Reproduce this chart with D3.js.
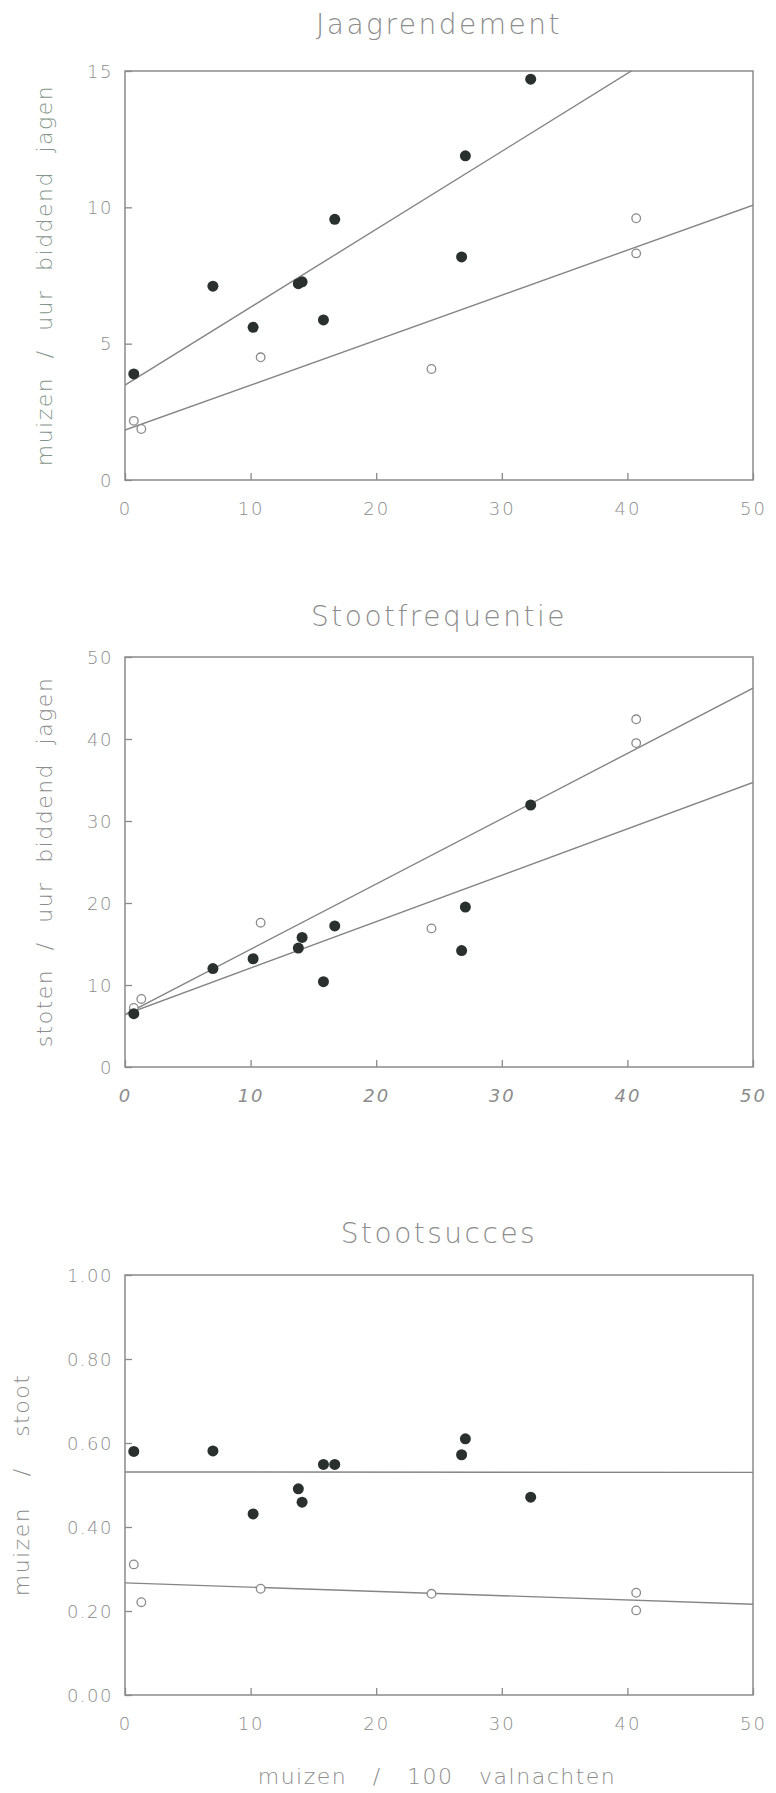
<!DOCTYPE html>
<html>
<head>
<meta charset="utf-8">
<script src="https://cdn.jsdelivr.net/npm/d3@7"></script>
<style>
  body { margin: 0; background: #fff; }
  svg { display: block; font-family: 'DejaVu Sans', sans-serif; font-weight: 200; }
</style>
</head>
<body>
<div id="chart"></div>
<script>
// x: muizen / 100 valnachten, same for all three panels
const xFilled = [0.7, 7.0, 10.2, 13.8, 14.1, 15.8, 16.7, 26.8, 27.1, 32.3]
const xOpen = [0.7, 1.3, 10.8, 24.4, 40.7, 40.7]
const xTicks = [0, 10, 20, 30, 40, 50]

// Jaagrendement (muizen / uur biddend jagen)
const jaagFilled = [3.89, 7.11, 5.6, 7.2, 7.27, 5.87, 9.56, 8.18, 11.89, 14.7]
const jaagOpen = [2.17, 1.87, 4.5, 4.07, 9.6, 8.31]
const jaagLines = [[3.48, 17.77], [1.83, 10.08]] // y at x=0 and x=50
const jaagTicks = [0, 5, 10, 15]

// Stootfrequentie (stoten / uur biddend jagen)
const stootFilled = [6.5, 12.0, 13.2, 14.5, 15.8, 10.4, 17.2, 14.2, 19.5, 31.95]
const stootOpen = [7.2, 8.3, 17.6, 16.9, 42.4, 39.5]
const stootLines = [[6.4, 46.2], [6.4, 34.7]]
const stootTicks = [0, 10, 20, 30, 40, 50]

// Stootsucces (muizen / stoot)
const succesFilled = [0.58, 0.581, 0.431, 0.491, 0.459, 0.549, 0.549, 0.572, 0.61, 0.471]
const succesOpen = [0.311, 0.221, 0.253, 0.241, 0.2435, 0.2014]
const succesLines = [[0.531, 0.530], [0.267, 0.216]]
const succesTicks = [0, 0.2, 0.4, 0.6, 0.8, 1.0]

const panels = [
  { title: 'Jaagrendement', ylabel: 'muizen / uur biddend jagen', yMax: 15, ticks: jaagTicks, fmt: d3.format('d'),
    filled: jaagFilled, open: jaagOpen, lines: jaagLines, top: 71, bottom: 480, titleY: 24, ylabelX: 44, ws: 10, italic: false, ylabelColor: '#85968c' },
  { title: 'Stootfrequentie', ylabel: 'stoten / uur biddend jagen', yMax: 50, ticks: stootTicks, fmt: d3.format('d'),
    filled: stootFilled, open: stootOpen, lines: stootLines, top: 657, bottom: 1067, titleY: 616, ylabelX: 44, ws: 10, italic: true, ylabelColor: '#8c8c8c' },
  { title: 'Stootsucces', ylabel: 'muizen / stoot', yMax: 1, ticks: succesTicks, fmt: d3.format('.2f'),
    filled: succesFilled, open: succesOpen, lines: succesLines, top: 1275, bottom: 1695, titleY: 1233, ylabelX: 21, ws: 22, italic: false, ylabelColor: '#8c8c8c' }
]

const width = 776
const height = 1793
const left = 125
const right = 753
const frameColor = '#8a8a8a'
const textColor = '#8c8c8c'

const svg = d3.select('#chart')
  .append('svg')
  .attr('width', width)
  .attr('height', height)

panels.forEach((p, i) => {
  const x = d3.scaleLinear().domain([0, 50]).range([left, right])
  const y = d3.scaleLinear().domain([0, p.yMax]).range([p.bottom, p.top])
  const g = svg.append('g')

  g.append('clipPath')
    .attr('id', 'clip' + i)
    .append('rect')
    .attr('x', left)
    .attr('y', p.top)
    .attr('width', right - left)
    .attr('height', p.bottom - p.top)

  // title
  g.append('text')
    .attr('x', (left + right) / 2)
    .attr('y', p.titleY)
    .attr('dy', '0.35em')
    .attr('text-anchor', 'middle')
    .attr('fill', textColor)
    .style('font-size', '28px')
    .style('letter-spacing', '2.5px')
    .text(p.title)

  // x axis, ticks point inward
  const xAxis = g.append('g')
    .attr('transform', `translate(0,${p.bottom})`)
    .call(d3.axisBottom(x).tickValues(xTicks).tickSizeInner(-7).tickSizeOuter(0))
  xAxis.attr('font-family', null).attr('font-size', null)
  xAxis.select('.domain').remove()
  xAxis.selectAll('line').attr('stroke', frameColor).attr('stroke-width', 1.3)
  xAxis.selectAll('text')
    .attr('y', 29)
    .attr('dy', '0.35em')
    .attr('fill', textColor)
    .style('font-size', '18px')
    .style('letter-spacing', '2px')
    .style('font-style', p.italic ? 'italic' : 'normal')

  // y axis
  const yAxis = g.append('g')
    .attr('transform', `translate(${left},0)`)
    .call(d3.axisLeft(y).tickValues(p.ticks).tickFormat(p.fmt).tickSizeInner(-7).tickSizeOuter(0))
  yAxis.attr('font-family', null).attr('font-size', null)
  yAxis.select('.domain').remove()
  yAxis.selectAll('line').attr('stroke', frameColor).attr('stroke-width', 1.3)
  yAxis.selectAll('text')
    .attr('x', -12)
    .attr('dy', '0.35em')
    .attr('fill', textColor)
    .style('font-size', '18px')
    .style('letter-spacing', '1.5px')

  // frame
  g.append('rect')
    .attr('x', left)
    .attr('y', p.top)
    .attr('width', right - left)
    .attr('height', p.bottom - p.top)
    .attr('fill', 'none')
    .attr('stroke', frameColor)
    .attr('stroke-width', 1.5)

  // y label
  g.append('text')
    .attr('transform', `translate(${p.ylabelX},${(p.top + p.bottom) / 2}) rotate(-90)`)
    .attr('text-anchor', 'middle')
    .attr('dy', '0.35em')
    .attr('fill', p.ylabelColor)
    .style('font-size', '22px')
    .style('letter-spacing', '1.5px')
    .style('word-spacing', p.ws + 'px')
    .text(p.ylabel)

  // fitted lines
  g.append('g')
    .attr('clip-path', `url(#clip${i})`)
    .selectAll('line')
    .data(p.lines)
    .enter()
    .append('line')
    .attr('x1', x(0))
    .attr('y1', d => y(d[0]))
    .attr('x2', x(50))
    .attr('y2', d => y(d[1]))
    .attr('stroke', '#858585')
    .attr('stroke-width', 1.4)

  // open circles
  g.append('g')
    .selectAll('circle')
    .data(p.open.map((v, j) => [xOpen[j], v]))
    .enter()
    .append('circle')
    .attr('cx', d => x(d[0]))
    .attr('cy', d => y(d[1]))
    .attr('r', 4.3)
    .attr('fill', '#fff')
    .attr('stroke', '#8a8a8a')
    .attr('stroke-width', 1.3)

  // filled dots
  g.append('g')
    .selectAll('circle')
    .data(p.filled.map((v, j) => [xFilled[j], v]))
    .enter()
    .append('circle')
    .attr('cx', d => x(d[0]))
    .attr('cy', d => y(d[1]))
    .attr('r', 5.5)
    .attr('fill', '#2a302e')
})

// shared x label
svg.append('text')
  .attr('x', 437)
  .attr('y', 1776)
  .attr('dy', '0.35em')
  .attr('text-anchor', 'middle')
  .attr('fill', textColor)
  .style('font-size', '22px')
  .style('letter-spacing', '1.5px')
  .style('word-spacing', '17px')
  .text('muizen / 100 valnachten')
</script>
</body>
</html>
